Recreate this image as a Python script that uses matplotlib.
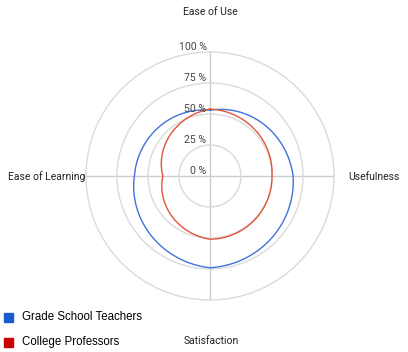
import numpy as np
import matplotlib.pyplot as plt
from matplotlib.patches import Rectangle

plt.rcParams["font.family"] = ["Roboto", "DejaVu Sans"]

# ---------------------------------------------------------
# data
# ---------------------------------------------------------
categories = ["Ease of Use", "Usefulness", "Satisfaction", "Ease of Learning"]
teachers = [53, 67, 74, 61]
professors = [54, 50, 51, 38]
r_ticks = [0, 25, 50, 75, 100]
r_tick_labels = ["0 %", "25 %", "50 %", "75 %", "100 %"]
series_names = ["Grade School Teachers", "College Professors"]

W, H = 408, 352
fig = plt.figure(figsize=(W / 100, H / 100), dpi=100)

cx, cy, R = 210, 176, 124
ax = fig.add_axes([(cx - R) / W, (H - cy - R) / H, 2 * R / W, 2 * R / H],
                  projection="polar")
ax.set_theta_zero_location("N")
ax.set_theta_direction(-1)
ax.set_ylim(0, 100)

theta = np.deg2rad(np.arange(len(categories)) * 360 / len(categories))
ax.set_xticks(theta)
ax.set_xticklabels([])
ax.set_yticks(r_ticks[1:-1])
ax.set_yticklabels([])
ax.grid(True, color="#dadada", lw=1)
ax.xaxis.grid(True, color="#cccccc", lw=1)
ax.spines["polar"].set_color("#dadada")
ax.spines["polar"].set_linewidth(1)
ax.tick_params(length=0)

# radial labels
for v, lab in zip(r_ticks, r_tick_labels):
    ax.annotate(lab, xy=(0, v), xytext=(-2.5, 0.3), textcoords="offset points",
                ha="right", va="bottom", fontsize=7.6, color="#444444")

# series (closed loops; polar lines are drawn as arcs between points)
line_colors = ["#3f72db", "#e0553a"]
box_colors = ["#1a5ccf", "#cc0000"]
for vals, col in zip([teachers, professors], line_colors):
    t = np.append(theta, theta[0] + 2 * np.pi)
    r = np.append(vals, vals[0])
    ln, = ax.plot(t, r, color=col, lw=1)
    ln.get_path()._interpolation_steps = 100

# category labels
def px(x, y):
    return x / W, 1 - y / H

fig.text(*px(210, 12), categories[0], ha="center", va="center", fontsize=7.5, color="#222222")
fig.text(*px(348, 177), categories[1], ha="left", va="center", fontsize=7.5, color="#222222")
fig.text(*px(211, 341), categories[2], ha="center", va="center", fontsize=7.5, color="#222222")
fig.text(*px(85, 177), categories[3], ha="right", va="center", fontsize=7.5, color="#222222")

# legend
for i, (name, col) in enumerate(zip(series_names, box_colors)):
    y = 317 + i * 25.5
    fig.patches.append(Rectangle(px(4, y + 4.5), 9 / W, 9 / H, color=col,
                                 transform=fig.transFigure))
    fig.text(*px(22, y), name, ha="left", va="center", fontsize=8.3,
             color="#000000", family=["Liberation Sans", "DejaVu Sans"])

fig.savefig("out.png", dpi=100)
